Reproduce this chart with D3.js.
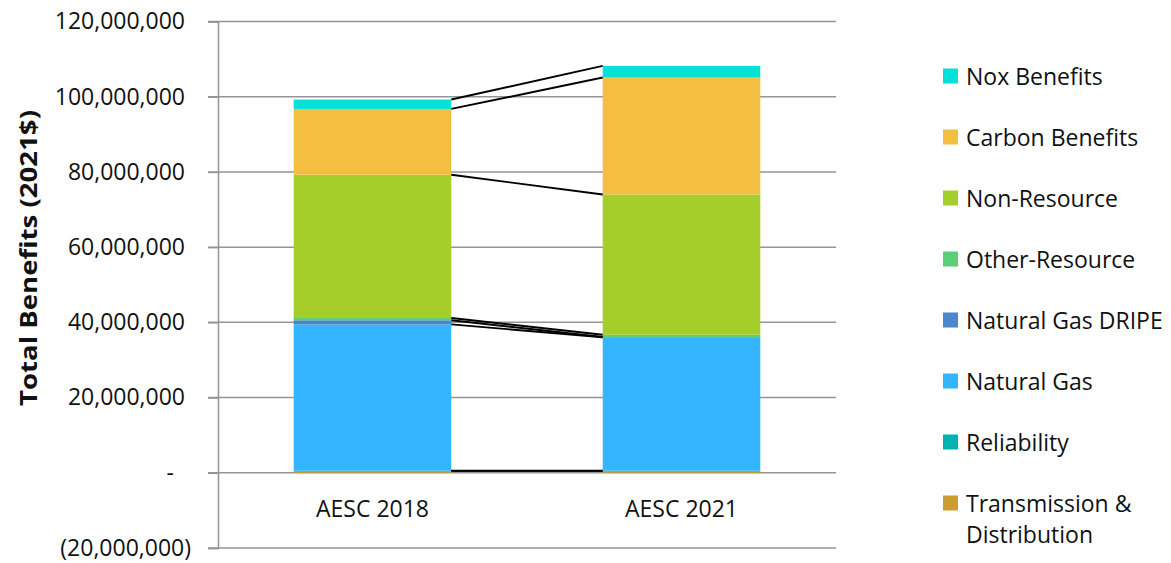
<!DOCTYPE html>
<html>
<head>
<meta charset="utf-8">
<script src="https://cdn.jsdelivr.net/npm/d3@7"></script>
<style>
  html, body { margin: 0; padding: 0; background: #fff; }
  svg { display: block; font-family: "Open Sans", sans-serif; }
</style>
</head>
<body>
<svg id="chart" width="1171" height="563"></svg>
<script>
// ---- data (values in dollars) ----
const categories = ["AESC 2018", "AESC 2021"];
const seriesNames = ["Transmission & Distribution", "Reliability", "Natural Gas", "Natural Gas DRIPE",
                     "Other-Resource", "Non-Resource", "Carbon Benefits", "Nox Benefits"];
const tdValues          = [500000, 500000];
const reliabilityValues = [50000, 50000];
const naturalGasValues  = [38900000, 35500000];
const dripeValues       = [1100000, 50000];
const otherResValues    = [600000, 600000];
const nonResValues      = [38100000, 37300000];
const carbonValues      = [17500000, 31100000];
const noxValues         = [2500000, 3100000];
const seriesColors = ["#CC9C30", "#00B3B1", "#33B5FF", "#4A86D0", "#5ACF78", "#A6CE2A", "#F4BE41", "#05E0DA"];
const tickValues = [-20000000, 0, 20000000, 40000000, 60000000, 80000000, 100000000, 120000000];
const tickLabels = ["(20,000,000)", "-", "20,000,000", "40,000,000", "60,000,000", "80,000,000", "100,000,000", "120,000,000"];
const legendLabels = ["Nox Benefits", "Carbon Benefits", "Non-Resource", "Other-Resource",
                      "Natural Gas DRIPE", "Natural Gas", "Reliability", "Transmission &\nDistribution"];
const yTitle = "Total Benefits (2021$)";

const allSeries = [tdValues, reliabilityValues, naturalGasValues, dripeValues, otherResValues, nonResValues, carbonValues, noxValues];
const table = categories.map((c, i) => {
  const row = { category: c };
  seriesNames.forEach((s, k) => row[s] = allSeries[k][i]);
  return row;
});

const svg = d3.select("#chart");
const plotLeft = 218, plotRight = 836, plotTop = 21.5, plotBottom = 548;

const x = d3.scaleBand().domain(categories).range([plotLeft, plotRight]).paddingInner(0.49).paddingOuter(0.245);
const y = d3.scaleLinear().domain([-20000000, 120000000]).range([plotBottom, plotTop]);

const gridColor = "#959595";

// gridlines
svg.append("g").selectAll("line").data(tickValues).join("line")
  .attr("x1", plotLeft - 10).attr("x2", plotRight)
  .attr("y1", d => y(d)).attr("y2", d => y(d))
  .attr("stroke", gridColor).attr("stroke-width", 1.5);

// y axis
const yAxis = d3.axisLeft(y).tickValues(tickValues).tickFormat((d, i) => tickLabels[i]).tickSize(10).tickPadding(23);
const ga = svg.append("g").attr("transform", `translate(${plotLeft},0)`).call(yAxis);
ga.select(".domain").attr("stroke", gridColor).attr("stroke-width", 1.5);
ga.selectAll(".tick line").attr("stroke", gridColor).attr("stroke-width", 1.5);
ga.selectAll(".tick text")
  .attr("font-family", "'Open Sans', sans-serif")
  .attr("font-size", 23).attr("fill", "#111")
  .attr("dx", (d, i) => tickLabels[i].startsWith("(") ? 6 : (tickLabels[i] === "-" ? -11 : 0));

// stacked bars
const stack = d3.stack().keys(seriesNames)(table);
const layers = svg.append("g").selectAll("g").data(stack).join("g")
  .attr("fill", (d, i) => seriesColors[i]);
layers.selectAll("rect").data(d => d).join("rect")
  .attr("x", d => x(d.data.category))
  .attr("width", x.bandwidth())
  .attr("y", d => y(d[1]))
  .attr("height", d => Math.max(0, y(d[0]) - y(d[1])));

// series lines connecting the tops of each series
const b0 = x(categories[0]) + x.bandwidth();
const b1 = x(categories[1]);
svg.append("g").selectAll("line").data(stack).join("line")
  .attr("x1", b0).attr("x2", b1)
  .attr("y1", d => y(d[0][1])).attr("y2", d => y(d[1][1]))
  .attr("stroke", "#000").attr("stroke-width", 1.9);

// category labels
svg.append("g").selectAll("text").data(categories).join("text")
  .attr("x", d => x(d) + x.bandwidth() / 2)
  .attr("y", 508)
  .attr("text-anchor", "middle").attr("dominant-baseline", "central")
  .attr("font-size", 23).attr("fill", "#111")
  .text(d => d);

// y title
svg.append("text")
  .attr("transform", `translate(27,258) rotate(-90)`)
  .attr("text-anchor", "middle").attr("dominant-baseline", "central")
  .attr("font-size", 24).attr("font-weight", "bold").attr("fill", "#111")
  .attr("textLength", 296).attr("lengthAdjust", "spacingAndGlyphs")
  .text(yTitle);

// legend
const legendColors = seriesColors.slice().reverse();
const lg = svg.append("g");
const rowY = d3.scaleLinear().domain([0, 7]).range([76, 503]);
legendLabels.forEach((lab, i) => {
  const cy = rowY(i);
  lg.append("rect").attr("x", 943).attr("y", cy - 7.5).attr("width", 15).attr("height", 15)
    .attr("fill", legendColors[i]);
  const lines = lab.split("\n");
  const t = lg.append("text").attr("x", 966).attr("y", cy)
    .attr("font-size", 23).attr("fill", "#111").attr("dominant-baseline", "central");
  lines.forEach((ln, j) => {
    t.append("tspan").attr("x", 966).attr("dy", j === 0 ? 0 : 31).text(ln);
  });
});
</script>
</body>
</html>
